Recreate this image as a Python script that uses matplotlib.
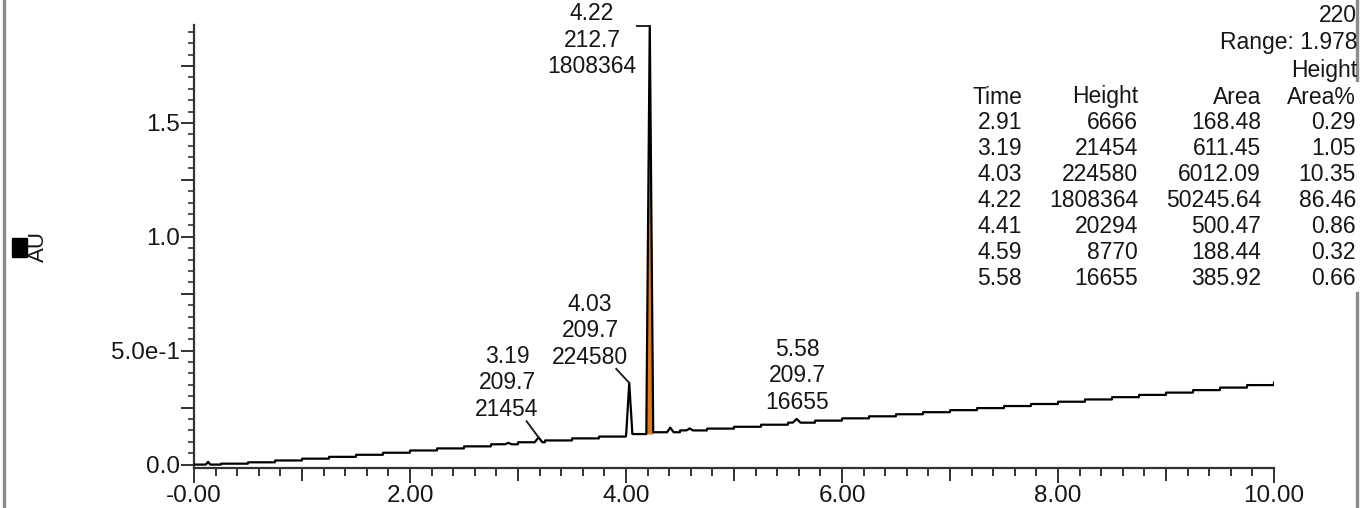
import numpy as np
import matplotlib.pyplot as plt
import matplotlib.transforms as mtransforms
from matplotlib.ticker import MultipleLocator, FixedLocator, FixedFormatter
from matplotlib.patches import Rectangle
from matplotlib.lines import Line2D

plt.rcParams['font.family'] = ['Liberation Sans', 'DejaVu Sans']

peak_time = [2.91, 3.19, 4.03, 4.22, 4.41, 4.59, 5.58]
peak_height = [6666, 21454, 224580, 1808364, 20294, 8770, 16655]
peak_area = [168.48, 611.45, 6012.09, 50245.64, 500.47, 188.44, 385.92]
peak_area_pct = [0.29, 1.05, 10.35, 86.46, 0.86, 0.32, 0.66]
# halbe Basisbreite der Peaks in min (geschaetzt)
peak_halfwidth = [0.03, 0.035, 0.028, 0.032, 0.03, 0.03, 0.035]

# beschriftete Peaks: Zeit / lambda max / Hoehe
label_time = [3.19, 4.03, 4.22, 5.58]
label_lambda = [209.7, 209.7, 212.7, 209.7]
label_height = [21454, 224580, 1808364, 16655]

# Basislinie (AU), eine Stufe alle 0.25 min von 0 bis 10
base_level = [0.000, 0.004, 0.010, 0.018, 0.026, 0.034, 0.043, 0.052, 0.062,
              0.071, 0.080, 0.089, 0.098, 0.106, 0.115, 0.123, 0.134, 0.142,
              0.150, 0.158, 0.166, 0.175, 0.184, 0.193, 0.203, 0.212, 0.221,
              0.230, 0.239, 0.248, 0.257, 0.266, 0.276, 0.286, 0.296, 0.306,
              0.316, 0.327, 0.338, 0.349, 0.360, 0.370]
base_step = 0.25

# kleine Stoerung am Anfang (ohne Tabelleneintrag)
blip_time = [0.13]
blip_height = [0.012]

x_ticklabels = ["-0.00", "2.00", "4.00", "6.00", "8.00", "10.00"]
y_ticklabels = ["0.0", "5.0e-1", "1.0", "1.5"]

W, H = 1372, 508
fig = plt.figure(figsize=(W / 100, H / 100), dpi=100)
ax = fig.add_axes([194 / W, 1 - 468 / H, (1274 - 194) / W, (468 - 25) / H])

TXT = '#161616'
AXC = '#333333'

# A. Signal zusammensetzen
t = np.linspace(0, 10, 10001)
idx = np.minimum((t / base_step).astype(int), len(base_level) - 1)
baseline = np.array(base_level)[idx]
signal = baseline.copy()
for t0, h, w in zip(peak_time, peak_height, peak_halfwidth):
    signal += np.clip(1 - np.abs(t - t0) / w, 0, None) * h / 1e6
for t0, h in zip(blip_time, blip_height):
    signal += np.clip(1 - np.abs(t - t0) / 0.02, 0, None) * h


def top_of(t0):
    return signal[np.argmin(np.abs(t - t0))]


# Hauptpeak orange fuellen
main = 3
mask = np.abs(t - peak_time[main]) <= peak_halfwidth[main]
ax.fill_between(t, baseline, signal, where=mask, color='#e07a12', lw=0, zorder=2)
ax.plot(t, signal, color='black', lw=1.6, zorder=3)

# B. Achsen
ax.set_xlim(0, 10)
ax.set_ylim(-0.015, 1.93)
for s in ['top', 'right']:
    ax.spines[s].set_visible(False)
for s in ['left', 'bottom']:
    ax.spines[s].set_color(AXC)
    ax.spines[s].set_linewidth(1.6)

ax.xaxis.set_major_locator(FixedLocator([0, 2, 4, 6, 8, 10]))
ax.xaxis.set_major_formatter(FixedFormatter(x_ticklabels))
ax.xaxis.set_minor_locator(MultipleLocator(0.2))
ax.yaxis.set_major_locator(FixedLocator([0, 0.5, 1.0, 1.5]))
ax.yaxis.set_major_formatter(FixedFormatter(y_ticklabels))
ax.yaxis.set_minor_locator(MultipleLocator(0.05))
ax.tick_params(axis='x', which='major', length=10.5, width=1.4, pad=1.5,
               labelsize=17.5, colors=AXC, labelcolor=TXT)
ax.tick_params(axis='x', which='minor', length=5.5, width=1.4, colors=AXC)
ax.tick_params(axis='y', which='major', length=9.5, width=1.4, pad=0.5,
               labelsize=17.5, colors=AXC, labelcolor=TXT)
ax.tick_params(axis='y', which='minor', length=4.5, width=1.2, colors=AXC)

# mittlere Striche (ganze Minuten, Viertel AU)
for xv in [1, 3, 5, 7, 9]:
    ax.add_line(Line2D([xv, xv], [0, -0.028], transform=ax.get_xaxis_transform(),
                       color=AXC, lw=1.4, clip_on=False))
for yv in [0.25, 0.75, 1.25, 1.75]:
    ax.add_line(Line2D([0, -12.5 / 1080], [yv, yv], transform=ax.get_yaxis_transform(),
                       color=AXC, lw=1.4, clip_on=False))

# C. Peak-Beschriftungen (Zeit / lambda / Hoehe), Mitte der mittleren Zeile
label_pos = [(2.898, 0.36), (3.667, 0.588), (3.685, 1.864), (5.583, 0.39)]
leader_start = [(3.08, 0.19), (3.91, 0.42), (4.10, 1.925), None]
for (lx, ly), ts, lam, h, ls in zip(label_pos, label_time, label_lambda,
                                    label_height, leader_start):
    for k, txt in enumerate([f"{ts:.2f}", f"{lam:.1f}", f"{h}"]):
        tr = mtransforms.offset_copy(ax.transData, fig=fig, y=(1 - k) * 26.5,
                                     units='dots')
        ax.text(lx, ly, txt, transform=tr, ha='center', va='center',
                fontsize=16.5, color=TXT, clip_on=False)
    if ls is not None:
        yt = min(top_of(ts), 1.925)
        ax.plot([ls[0], ts], [ls[1], yt], color='#222222', lw=1.4,
                clip_on=False, zorder=4)

# D. Tabelle rechts oben
col_right = [1022, 1138, 1261, 1356]
row_y0, row_dy = 97, 25.9
fs_tab = 16.5
for xr, head in zip(col_right, ["Time", "Height", "Area", "Area%"]):
    fig.text(xr / W, 1 - row_y0 / H, head, ha='right', va='center',
             fontsize=fs_tab, color=TXT)
for i in range(len(peak_time)):
    yy = 1 - (row_y0 + (i + 1) * row_dy) / H
    vals = [f"{peak_time[i]:.2f}", f"{peak_height[i]}",
            f"{peak_area[i]:.2f}", f"{peak_area_pct[i]:.2f}"]
    for xr, v in zip(col_right, vals):
        fig.text(xr / W, yy, v, ha='right', va='center', fontsize=fs_tab,
                 color=TXT)
fig.text(1357 / W, 1 - 15 / H, "220", ha='right', va='center', fontsize=fs_tab,
         color=TXT)
fig.text(1357 / W, 1 - 43 / H, "Range: 1.978", ha='right', va='center',
         fontsize=fs_tab, color=TXT)
fig.text(1357 / W, 1 - 71 / H, "Height", ha='right', va='center',
         fontsize=fs_tab, color=TXT)

# E. Y-Beschriftung mit schwarzem Kaestchen
fig.text(38 / W, 1 - 247 / H, "AU", rotation=90, ha='center', va='center',
         fontsize=16, color=TXT)
fig.add_artist(Rectangle((12 / W, 1 - 257 / H), 15 / W, 19 / H,
                         transform=fig.transFigure, color='black'))

# Rahmenlinien
fig.add_artist(Line2D([4 / W, 4 / W], [0, 1], color='#8c8c8c', lw=2.4))
fig.add_artist(Line2D([1357 / W, 1357 / W], [1, 1 - 80 / H], color='#8c8c8c', lw=2.4))
fig.add_artist(Line2D([1357 / W, 1357 / W], [1 - 293 / H, 0], color='#8c8c8c', lw=2.4))

fig.savefig("out.png", dpi=100)
